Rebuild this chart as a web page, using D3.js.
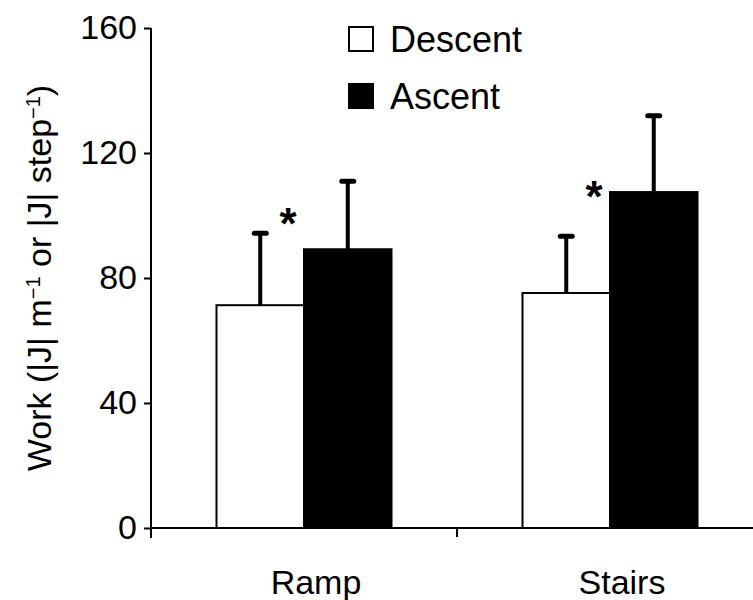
<!DOCTYPE html>
<html lang="en">
<head>
<meta charset="UTF-8" />
<title>Work</title>
<style>
  html, body {
    margin: 0;
    padding: 0;
    background: #fff;
  }
  svg {
    display: block;
    font-family: "Liberation Sans", Arial, sans-serif;
  }
  .axis path, .axis line {
    stroke: #000;
    stroke-width: 2px;
  }
  .axis text {
    font-size: 34px;
    fill: #000;
  }
</style>
</head>
<body>
<svg width="753" height="600"></svg>

<script src="https://d3js.org/d3.v7.min.js"></script>
<script>
// data
const categories = ["Ramp", "Stairs"];
const seriesNames = ["Descent", "Ascent"];
const descentMean = [71.3, 75.2];
const descentSD = [23, 18.2];
const ascentMean = [89.2, 107.5];
const ascentSD = [21.8, 24.4];
const starY = [100.2, 108.8];   // height of the * mark
const yTicks = [0, 40, 80, 120, 160];

const svg = d3.select("svg");

const y = d3.scaleLinear().domain([0, 160]).range([528, 28]);
const x = d3.scaleBand().domain(categories).range([151, 763]);
const half = 87.5;

// y axis
const yAxis = svg.append("g")
  .attr("class", "axis")
  .attr("transform", "translate(151,0)")
  .call(d3.axisLeft(y).tickValues(yTicks).tickSize(7).tickPadding(7).tickSizeOuter(0));
yAxis.select(".domain").attr("d", "M0,28V538");

// x axis line + ticks
svg.append("line")
  .attr("x1", 151).attr("x2", 753)
  .attr("y1", y(0)).attr("y2", y(0))
  .attr("stroke", "#000").attr("stroke-width", 2);
svg.append("line")
  .attr("x1", x.step() + 151).attr("x2", x.step() + 151)
  .attr("y1", y(0)).attr("y2", y(0) + 9)
  .attr("stroke", "#000").attr("stroke-width", 2);

svg.selectAll(".xlabel")
  .data(categories)
  .join("text")
  .attr("class", "xlabel")
  .attr("x", d => x(d) + x.bandwidth() / 2 + 12)
  .attr("y", 594)
  .attr("text-anchor", "middle")
  .attr("font-size", 34)
  .text(d => d);

// y label
svg.append("text")
  .attr("transform", "translate(51,278) rotate(-90)")
  .attr("text-anchor", "middle")
  .attr("font-size", 34)
  .html('Work (|J| m<tspan baseline-shift="super" font-size="20">\u22121</tspan> or |J| step<tspan baseline-shift="super" font-size="20">\u22121</tspan>)');

// bars
const rows = categories.map((c, i) => [
  { cat: c, s: 0, mean: descentMean[i], sd: descentSD[i] },
  { cat: c, s: 1, mean: ascentMean[i], sd: ascentSD[i] }
]).flat();

const barX = d => x(d.cat) + x.bandwidth() / 2 + (d.s === 0 ? -half : 0);

// error bars first so the bar outline sits on top
svg.selectAll(".err")
  .data(rows)
  .join("line")
  .attr("x1", d => barX(d) + half / 2)
  .attr("x2", d => barX(d) + half / 2)
  .attr("y1", d => y(d.mean))
  .attr("y2", d => y(d.mean + d.sd))
  .attr("stroke", "#000")
  .attr("stroke-width", 4);

svg.selectAll(".cap")
  .data(rows)
  .join("line")
  .attr("x1", d => barX(d) + half / 2 - 6)
  .attr("x2", d => barX(d) + half / 2 + 6)
  .attr("y1", d => y(d.mean + d.sd))
  .attr("y2", d => y(d.mean + d.sd))
  .attr("stroke", "#000")
  .attr("stroke-width", 5)
  .attr("stroke-linecap", "round");

svg.selectAll(".bar")
  .data(rows)
  .join("rect")
  .attr("x", barX)
  .attr("y", d => y(d.mean))
  .attr("width", half)
  .attr("height", d => y(0) - y(d.mean))
  .attr("fill", d => d.s === 0 ? "#fff" : "#000")
  .attr("stroke", "#000")
  .attr("stroke-width", 2);

// significance marks
svg.selectAll(".star")
  .data(categories)
  .join("text")
  .attr("x", d => x(d) + x.bandwidth() / 2 - 16)
  .attr("y", (d, i) => y(starY[i]) + 24)
  .attr("text-anchor", "middle")
  .attr("font-size", 44)
  .attr("font-weight", "bold")
  .text("*");

// legend
const leg = svg.selectAll(".leg")
  .data(seriesNames)
  .join("g")
  .attr("transform", (d, i) => `translate(349,${27 + i * 57})`);
leg.append("rect")
  .attr("width", 24).attr("height", 24)
  .attr("fill", (d, i) => i === 0 ? "#fff" : "#000")
  .attr("stroke", "#000").attr("stroke-width", 2);
leg.append("text")
  .attr("x", 41).attr("y", 25)
  .attr("font-size", 36)
  .text(d => d);
</script>
</body>
</html>
